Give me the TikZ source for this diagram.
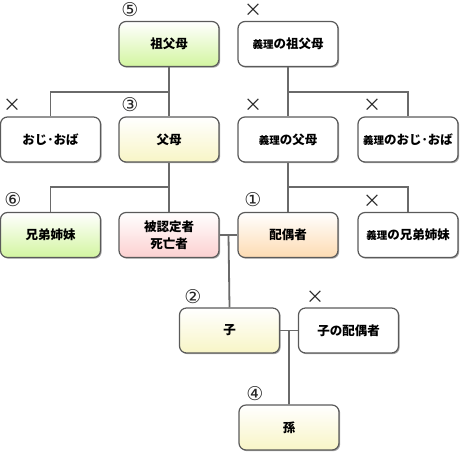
\documentclass[tikz,border=0pt]{standalone}
\usepackage{fontspec}
\setmainfont{Noto Sans CJK JP}
\newfontfamily\symfont{DejaVu Sans}
\usetikzlibrary{shadows,calc}
\definecolor{linegray}{HTML}{6A6A6A}
\definecolor{boxborder}{HTML}{5A5A5A}
\definecolor{greenbot}{HTML}{D2F5A0}
\definecolor{yellowbot}{HTML}{F8F5C6}
\definecolor{pinkbot}{HTML}{FCD0D0}
\definecolor{orangebot}{HTML}{FDDBB2}
\tikzset{
  box/.style={draw=boxborder, line width=1.2pt, rounded corners=7pt,
    minimum width=100pt, minimum height=45pt, inner sep=2pt, align=center,
    font=\fontsize{12.5}{17}\selectfont\bfseries, fill=white,
    drop shadow={shadow xshift=1.2pt, shadow yshift=-1.2pt, fill=black, opacity=0.35}},
  greenbox/.style={box, top color=white, bottom color=greenbot},
  yellowbox/.style={box, top color=white, bottom color=yellowbot},
  pinkbox/.style={box, top color=white, bottom color=pinkbot},
  orangebox/.style={box, top color=white, bottom color=orangebot},
  conn/.style={draw=linegray, line width=1.8pt},
  numlbl/.style={font=\symfont\fontsize{19}{19}\selectfont, inner sep=0pt, text=black!85},
  xlbl/.style={font=\fontsize{18}{18}\selectfont, inner sep=0pt, text=black!85},
}
\newcommand{\giri}{{\fontsize{10.5}{12}\selectfont 義理}}
\begin{document}
\begin{tikzpicture}[x=1pt,y=-1pt]
\useasboundingbox (0,0) rectangle (460,451);
\coordinate (gpj) at (169,92);
\coordinate (ggpj) at (288,92);
\coordinate (pj) at (169,187);
\coordinate (gpj2) at (288,187);
% nodes
\node[greenbox] (gp) at (169,44) {祖父母};
\node[box] (ggp) at (288,44) {\giri の祖父母};
\node[box] (oji) at (50.5,139.5) {おじ･おば};
\node[yellowbox] (p) at (169,139.5) {父母};
\node[box] (gparent) at (288,139.5) {\giri の父母};
\node[box] (goji) at (408,139.5) {\giri のおじ･おば};
\node[greenbox] (sib) at (50.5,235) {兄弟姉妹};
\node[pinkbox] (dec) at (169,235) {被認定者\\死亡者};
\node[orangebox] (sp) at (288,235) {配偶者};
\node[box] (gsib) at (408,235) {\giri の兄弟姉妹};
\node[yellowbox] (ch) at (229.5,330.5) {子};
\node[box] (chsp) at (348.5,330.5) {子の配偶者};
\node[yellowbox] (gc) at (289,427.5) {孫};
% connectors
\draw[conn] (gp.south) -- (p.north);
\draw[conn] (oji.north) |- (gpj);
\draw[conn] (ggp.south) -- (gparent.north);
\draw[conn] (goji.north) |- (ggpj);
\draw[conn] (p.south) -- (dec.north);
\draw[conn] (sib.north) |- (pj);
\draw[conn] (gparent.south) -- (sp.north);
\draw[conn] (gsib.north) |- (gpj2);
\draw[conn] (dec.east) -- (sp.west);
\coordinate (m1) at ($(dec.east)!0.5!(sp.west)$);
\draw[conn] (m1) -- (ch.north);
\draw[conn] (ch.east) -- (chsp.west);
\coordinate (m2) at ($(ch.east)!0.5!(chsp.west)$);
\draw[conn] (m2) -- (gc.north);
% labels
\node[numlbl] (l5) at (130,10) {⑤};
\node[xlbl] (x1) at (253,10) {×};
\node[xlbl] (x2) at (13,105) {×};
\node[numlbl] (l3) at (130,105) {③};
\node[xlbl] (x3) at (253,105) {×};
\node[xlbl] (x4) at (372,105) {×};
\node[numlbl] (l6) at (13,200) {⑥};
\node[numlbl] (l1) at (253,200) {①};
\node[xlbl] (x5) at (372,201) {×};
\node[numlbl] (l2) at (193,297) {②};
\node[xlbl] (x6) at (315,297) {×};
\node[numlbl] (l4) at (255,394) {④};
\end{tikzpicture}
\end{document}
